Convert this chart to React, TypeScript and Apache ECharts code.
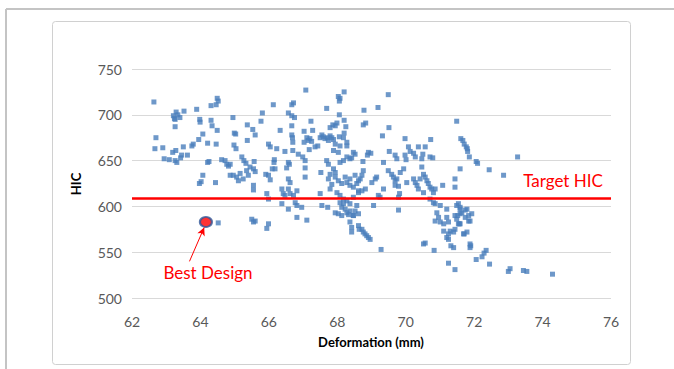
import React, { useEffect, useRef } from "react";
import * as echarts from "echarts";

// Axis ranges / ticks
const X_MIN = 62;
const X_MAX = 76;
const X_STEP = 2;
const Y_MIN = 500;
const Y_MAX = 750;
const Y_STEP = 50;

const TARGET_HIC = 609;
const BEST_DESIGN: [number, number] = [64.16, 583];
const ARROW_FROM: [number, number] = [63.68, 540];
const ARROW_TO: [number, number] = [64.11, 577];

// Design points [deformation (mm), HIC]
const designsLeft: [number, number][] = [
  [62.64,714],[64.49,718],[64.52,715],[64.46,711],[64.31,710],[63.89,706],[63.52,704],[63.29,703],[63.34,700],[63.40,697],
  [63.24,696],[63.26,695],[63.21,699],[63.26,687],[63.98,695],[63.99,692],[64.31,694],[64.34,688],[64.49,683],[64.07,679],
  [64.95,697],[65.37,689],[64.99,680],[65.03,679],[62.70,675],[63.95,673],[65.37,672],[63.79,668],[63.75,666],[64.21,669],
  [64.46,668],[64.98,667],[65.04,663],[62.67,663],[62.90,664],[63.50,665],[63.28,661],[63.19,659],[63.45,656],[63.42,653],
  [63.62,656],[62.94,652],[63.09,651],[63.26,650],[63.31,648],[64.25,649],[64.21,648],[64.62,651],[64.72,650],[64.77,646],
  [64.82,644],[64.87,646],[65.21,654],[65.27,650],[65.33,647],[64.87,634],[64.96,634],[65.06,632],[65.11,628],[65.25,630],
  [65.35,639],[65.40,634],[65.16,636],[64.07,634],[64.02,627],[63.97,625],[64.44,626],[64.52,582],
];

const designsMid: [number, number][] = [
  [65.53,684],[65.60,678],[65.45,643],[65.55,641],[65.57,649],[65.60,638],[65.55,623],[65.55,618],[65.50,586],[65.55,583],[65.60,584],
  [67.08,727],[68.20,725],[68.03,720],[68.08,718],[68.06,715],[66.67,711],[66.72,713],[66.13,711],[67.69,707],[65.81,702],
  [66.57,702],[66.67,699],[66.75,697],[68.06,700],[65.77,693],[67.23,693],[68.20,694],[67.99,691],[67.87,689],[67.79,686],
  [67.94,688],[66.67,688],[66.33,683],[67.28,683],[67.03,682],[68.25,687],[68.20,680],[66.67,678],[66.69,675],[66.70,670],
  [67.55,678],[67.50,675],[67.59,676],[67.64,674],[67.71,675],[67.79,677],[67.84,675],[67.89,673],[67.74,672],[67.11,675],
  [67.20,674],[67.15,672],[67.03,670],[67.25,671],[68.06,676],[68.18,675],[68.28,670],[68.08,666],[67.94,668],[65.99,668],
  [66.04,665],[66.23,663],[66.47,660],[66.70,661],[66.86,657],[67.18,662],[67.35,665],[67.43,666],[67.89,661],[68.03,659],
  [68.28,666],[66.99,654],[67.06,650],[67.69,650],[67.74,646],[68.08,648],[68.18,650],[68.28,654],[68.42,653],[66.16,651],
  [66.15,648],[66.57,648],[66.60,646],[66.10,641],[66.52,642],[67.06,642],[67.52,637],
  [65.91,635],[65.99,634],[66.04,629],[66.18,641],[66.57,630],[66.62,626],[67.06,632],[67.89,641],[67.94,637],[67.79,635],
  [67.74,630],[67.84,624],[67.79,619],[67.94,632],[68.03,628],[68.13,625],[68.23,632],[68.28,626],[68.37,623],[68.47,621],
  [68.37,630],[65.94,614],[65.99,608],[66.38,619],[66.42,614],[66.47,612],[66.57,619],[66.62,614],[66.72,612],[66.82,617],
  [66.38,603],[66.57,597],[66.77,604],[66.82,601],[66.96,599],[67.50,614],[67.55,601],[67.72,599],[67.99,615],[68.08,612],
  [68.18,608],[68.08,604],[68.28,606],[68.37,603],[68.47,610],[68.18,603],[68.13,599],[68.23,597],[68.28,593],[67.94,593],
  [68.03,592],[68.13,590],[68.33,591],[68.47,590],[68.37,595],[66.82,588],[67.11,585],[65.99,581],[65.94,576],[68.37,583],
  [68.42,577],[68.42,572],
];

const designsRightMid: [number, number][] = [
  [69.49,722],[69.19,708],[68.78,705],[68.76,689],[68.83,691],[69.51,686],[69.32,677],[69.98,674],[70.73,673],[68.47,659],
  [68.52,657],[68.37,652],[68.91,659],[68.98,658],[68.88,656],[69.52,660],[70.08,665],[70.13,660],[70.23,658],[70.28,654],
  [69.98,656],[70.37,665],[70.57,665],[70.50,657],[70.47,652],[70.71,654],[70.79,653],[69.69,656],[69.74,652],[69.35,648],
  [68.75,649],[70.01,651],
  [68.57,625],[68.62,628],[68.52,634],[68.67,630],[68.72,634],[68.76,639],[68.62,617],[68.72,617],[68.82,619],[69.01,626],
  [69.11,630],[69.15,632],[69.35,619],[69.49,639],[69.59,635],[69.64,632],[69.69,628],[69.74,630],[69.84,637],[69.94,641],
  [69.69,623],[69.79,622],[69.82,614],[70.03,626],[70.23,630],[70.28,626],[70.33,623],[70.37,619],[70.47,643],[70.52,635],
  [70.57,632],[70.62,628],[70.66,625],[70.71,621],[70.76,619],[70.86,619],[70.81,615],[70.52,615],[70.42,630],[69.20,612],
  [69.25,610],[69.79,610],[68.57,601],[68.62,615],[68.47,590],[68.62,592],[68.52,595],[69.06,601],[69.79,596],[70.71,608],
  [70.81,604],[70.86,603],[68.62,579],[68.64,575],[68.72,575],[68.76,572],[68.81,570],[68.86,568],[68.91,566],[68.96,564],
  [69.28,553],[70.52,559],[70.57,560],[70.83,552],[70.91,593],[70.96,588],[70.86,584],
];

const designsRight: [number, number][] = [
  [71.49,693],[71.61,674],[71.67,672],[71.71,668],[71.77,665],[71.81,660],[71.86,654],[71.80,663],[72.06,649],[72.10,647],
  [71.59,641],[72.44,640],[72.86,634],[73.27,654],
  [71.08,623],[71.44,630],[71.44,621],[71.01,601],[71.20,597],[71.54,603],[71.59,597],[71.64,593],[71.79,597],[71.01,583],
  [71.11,581],[71.20,588],[71.25,583],[71.44,590],[71.49,586],[71.54,581],[71.11,573],[71.30,573],[71.40,572],[71.44,575],
  [71.49,601],[71.25,570],[71.20,566],[71.25,564],[71.32,557],[71.40,555],[71.25,538],[71.44,531],[71.88,559],[71.79,572],
  [71.69,570],[71.52,590],[71.59,592],[71.74,588],[71.84,584],[71.57,581],[71.59,599],[71.74,596],[71.84,590],[71.93,592],
  [71.88,584],[71.59,581],[71.71,570],[71.90,557],[71.88,555],[72.06,542],[72.23,545],[72.29,549],[72.35,552],[72.45,537],
  [73.00,529],[73.05,532],[73.44,530],[73.54,529],[74.29,526],
];

const ALL_DESIGNS = [...designsLeft, ...designsMid, ...designsRightMid, ...designsRight];

const FONT = "Lato, 'Open Sans', sans-serif";

export default function App() {
  const ref = useRef<HTMLDivElement>(null);

  useEffect(() => {
    if (!ref.current) return;
    const chart = echarts.init(ref.current, undefined, { renderer: "svg" });
    chart.setOption({
      animation: false,
      backgroundColor: "#ffffff",
      textStyle: { fontFamily: FONT },
      grid: { left: 132, top: 69, width: 479, height: 229, containLabel: false },
      xAxis: {
        type: "value",
        min: X_MIN,
        max: X_MAX,
        interval: X_STEP,
        axisLine: { show: false },
        axisTick: { show: false },
        splitLine: { show: false },
        axisLabel: { color: "#595959", fontSize: 14, fontFamily: FONT, margin: 16 },
      },
      yAxis: {
        type: "value",
        min: Y_MIN,
        max: Y_MAX,
        interval: Y_STEP,
        axisLine: { show: false },
        axisTick: { show: false },
        splitLine: { show: true, lineStyle: { color: "#d9d9d9", width: 1 } },
        axisLabel: { color: "#595959", fontSize: 14, fontFamily: FONT, margin: 10 },
      },
      graphic: [
        { type: "line", shape: { x1: 6, y1: 9, x2: 674, y2: 9 }, style: { stroke: "#c4c4c4", lineWidth: 2 }, silent: true },
        { type: "line", shape: { x1: 6, y1: 9, x2: 6, y2: 369 }, style: { stroke: "#c4c4c4", lineWidth: 2 }, silent: true },
        { type: "rect", shape: { x: 52.5, y: 21.5, width: 578, height: 343, r: 3 }, style: { fill: "none", stroke: "#d0d0d0", lineWidth: 1 }, silent: true, z: -1 },
        {
          type: "text", x: 76, y: 184, rotation: Math.PI / 2,
          style: { text: "HIC", fill: "#000", font: `bold 13px ${FONT}`, textAlign: "center", textVerticalAlign: "middle" },
        },
        {
          type: "text", x: 371, y: 342,
          style: { text: "Deformation (mm)", fill: "#000", font: `bold 13px ${FONT}`, textAlign: "center", textVerticalAlign: "middle" },
        },
        {
          type: "text", x: 563, y: 180,
          style: { text: "Target HIC", fill: "#ff0000", font: `17px ${FONT}`, textAlign: "center", textVerticalAlign: "middle" },
        },
        {
          type: "text", x: 208, y: 272,
          style: { text: "Best Design", fill: "#ff0000", font: `17px ${FONT}`, textAlign: "center", textVerticalAlign: "middle" },
        },
      ],
      series: [
        {
          type: "scatter",
          data: ALL_DESIGNS,
          symbol: "rect",
          symbolSize: 5,
          itemStyle: { color: "#4a7ebb" },
          z: 2,
          markLine: {
            silent: true,
            symbol: ["none", "none"],
            label: { show: false },
            lineStyle: { color: "#ff0000", width: 2.6, type: "solid" },
            data: [{ yAxis: TARGET_HIC }],
          },
        },
        {
          type: "scatter",
          data: [BEST_DESIGN],
          symbol: "circle",
          symbolSize: [12, 10],
          itemStyle: { color: "#ff0000", borderColor: "#2e5597", borderWidth: 2 },
          z: 4,
          markLine: {
            silent: true,
            symbol: ["none", "arrow"],
            symbolSize: [6, 8],
            label: { show: false },
            lineStyle: { color: "#ff0000", width: 1, type: "solid" },
            data: [[{ coord: ARROW_FROM }, { coord: ARROW_TO }]],
          },
        },
      ],
    });
    return () => chart.dispose();
  }, []);

  return (
    <div
      ref={ref}
      style={{ position: "absolute", left: 0, top: 0, width: 674, height: 369, background: "#fff" }}
    />
  );
}
